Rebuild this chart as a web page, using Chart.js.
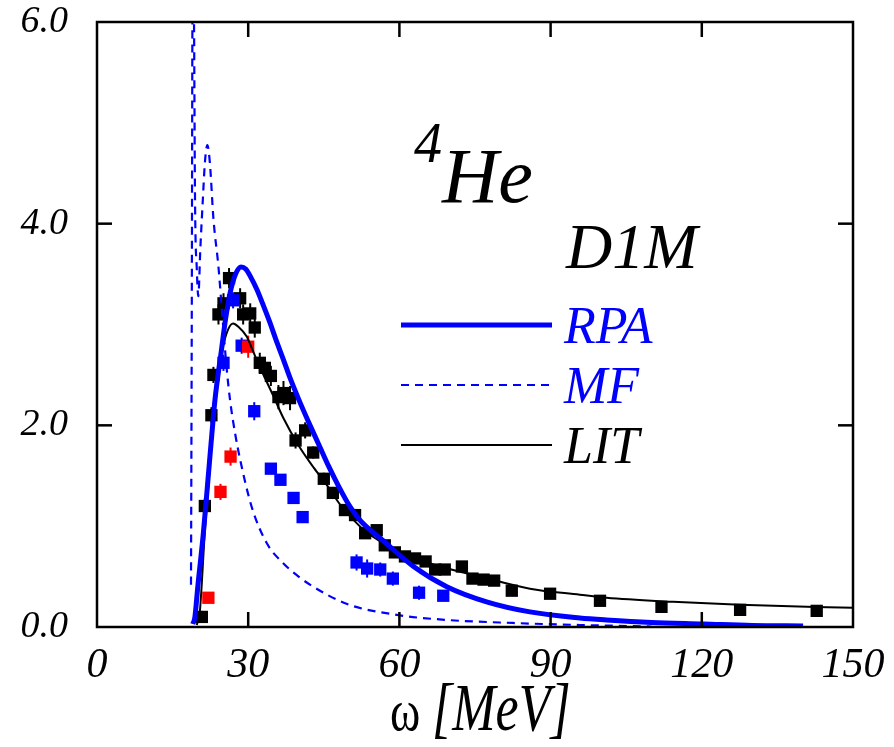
<!DOCTYPE html>
<html><head><meta charset="utf-8">
<script src="https://cdn.jsdelivr.net/npm/chart.js@4.4.1/dist/chart.umd.min.js"></script>
<style>html,body{margin:0;padding:0;background:#fff;}canvas{display:block;}</style>
</head><body>
<canvas id="c" width="894" height="747"></canvas>
<script>
// ---- tick labels ----
const xTicks = [0, 30, 60, 90, 120, 150];
const yTicks = [0, 2, 4, 6];

// ---- theory curves ----
const rpaX = [19.0,19.4,20.0,21.1,22.0,22.8,23.4,24.7,25.5,26.4,27.5,28.6,29.5,30.5,31.7,33.0,34.3,35.5,37.0,38.3,40.0,42.0,44.0,46.0,48.0,50.0,52.0,54.0,56.2,62.8,69.4,77.3,85.9,95.8,101.1,110.0,120.3,130.0,140.1];
const rpaY = [0.03,0.09,0.40,0.93,1.45,1.92,2.25,2.75,3.05,3.31,3.50,3.57,3.55,3.47,3.35,3.19,3.02,2.85,2.65,2.47,2.26,2.03,1.81,1.59,1.39,1.21,1.07,0.97,0.88,0.60,0.40,0.25,0.15,0.09,0.07,0.045,0.03,0.015,0.01];

const mfX = [18.65,18.8,18.95,19.1,19.25,19.45,19.8,20.1,20.5,21.0,21.4,21.9,22.4,23.1,24.1,25.0,25.7,26.4,27.4,28.4,30.7,33.7,37.0,40.0,42.9,49.5,59.5,69.4,82.5,95.8,110.0];
const mfY = [0.42,3.0,6.2,6.6,6.0,4.24,3.55,3.28,3.75,4.24,4.6,4.78,4.6,4.05,3.57,3.0,2.58,2.25,1.92,1.66,1.19,0.83,0.63,0.50,0.40,0.23,0.12,0.07,0.04,0.02,0.005];

const litX = [19.8,20.4,21.4,22.1,23.1,24.0,25.0,26.0,27.0,28.0,29.7,31.0,32.3,35.0,37.0,40.0,43.0,46.0,48.0,50.0,53.5,59.5,66.1,76.0,85.9,95.8,101.1,114.3,127.6,150.0];
const litY = [0.02,0.15,0.95,1.40,2.05,2.48,2.78,2.95,3.01,2.98,2.88,2.73,2.58,2.29,2.07,1.80,1.58,1.38,1.23,1.11,0.94,0.76,0.63,0.50,0.38,0.32,0.29,0.25,0.22,0.19];

// ---- experimental points ----
const blackX = [20.8,21.4,22.7,23.1,24.1,25.1,26.2,28.4,29.0,30.4,31.3,32.3,33.3,34.5,36.0,37.0,38.3,39.4,41.3,42.9,45.0,46.8,49.2,51.2,53.2,55.5,57.1,59.1,61.1,63.1,65.2,67.1,69.0,72.4,74.5,76.7,78.8,82.3,89.9,99.8,112.0,127.6,142.8];
const blackY = [0.10,1.20,2.10,2.50,3.10,3.21,3.46,3.26,3.10,3.11,2.97,2.62,2.57,2.49,2.28,2.32,2.27,1.85,1.95,1.73,1.47,1.33,1.16,1.11,0.93,0.96,0.81,0.74,0.70,0.68,0.65,0.57,0.57,0.60,0.48,0.47,0.46,0.36,0.33,0.26,0.20,0.17,0.16];
const blackErr = [0.06,0.08,0.08,0.08,0.10,0.10,0.10,0.10,0.10,0.10,0.10,0.10,0.10,0.10,0.12,0.12,0.12,0.08,0.08,0.06,0.06,0.05,0.04,0.04,0.04,0.04,0.04,0.04,0.04,0.04,0.04,0.04,0.04,0.04,0.04,0.04,0.04,0.04,0.04,0.04,0.04,0.04,0.04];

const blueX = [25.1,27.0,28.7,31.2,34.5,36.4,39.0,40.8,51.5,53.6,56.2,58.7,63.9,68.7];
const blueY = [2.62,3.24,2.79,2.14,1.57,1.46,1.28,1.09,0.64,0.58,0.57,0.48,0.34,0.31];
const blueErr = [0.08,0.08,0.08,0.09,0.05,0.05,0.05,0.05,0.08,0.09,0.07,0.07,0.07,0.05];

const redX = [22.1,24.5,26.5,30.0];
const redY = [0.29,1.34,1.69,2.78];
const redErr = [0.05,0.08,0.09,0.11];

const pts = (xs, ys) => xs.map((x, i) => ({x: x, y: ys[i]}));
const SERIF = '"Liberation Serif", "DejaVu Serif", serif';
const BLUE = '#0000ff', RED = '#ff0000', BLACK = '#000000';

const errorBars = {
  id: 'errorBars',
  beforeDatasetsDraw(chart) {
    const {ctx, chartArea, scales: {x, y}} = chart;
    ctx.save();
    ctx.beginPath(); ctx.rect(chartArea.left, chartArea.top, chartArea.right - chartArea.left, chartArea.bottom - chartArea.top); ctx.clip();
    chart.data.datasets.forEach(ds => {
      if (!ds.errY) return;
      ctx.strokeStyle = ds.backgroundColor; ctx.lineWidth = 2;
      ds.data.forEach((p, i) => {
        const px = x.getPixelForValue(p.x);
        ctx.beginPath();
        ctx.moveTo(px, y.getPixelForValue(p.y - ds.errY[i]));
        ctx.lineTo(px, y.getPixelForValue(p.y + ds.errY[i]));
        ctx.stroke();
      });
    });
    ctx.restore();
  }
};

const frame = {
  id: 'frame',
  afterDraw(chart) {
    const {ctx, chartArea: {left, right, top, bottom}, scales: {x, y}} = chart;
    ctx.save();
    ctx.strokeStyle = BLACK; ctx.lineWidth = 2.5;
    ctx.strokeRect(left, top, right - left, bottom - top);
    const L = 15;
    xTicks.forEach(v => {
      const px = x.getPixelForValue(v);
      if (px <= left + 1 || px >= right - 1) return;
      ctx.beginPath(); ctx.moveTo(px, bottom); ctx.lineTo(px, bottom - L); ctx.stroke();
      ctx.beginPath(); ctx.moveTo(px, top); ctx.lineTo(px, top + L); ctx.stroke();
    });
    yTicks.forEach(v => {
      const py = y.getPixelForValue(v);
      if (py <= top + 1 || py >= bottom - 1) return;
      ctx.beginPath(); ctx.moveTo(left, py); ctx.lineTo(left + L, py); ctx.stroke();
      ctx.beginPath(); ctx.moveTo(right, py); ctx.lineTo(right - L, py); ctx.stroke();
    });
    ctx.restore();
  }
};

const texts = {
  id: 'texts',
  afterDraw(chart) {
    const ctx = chart.ctx;
    ctx.save();
    ctx.textAlign = 'left'; ctx.textBaseline = 'alphabetic';
    ctx.fillStyle = BLACK;
    ctx.font = 'italic 56px ' + SERIF; ctx.fillText('4', 414, 162);
    ctx.font = 'italic 78px ' + SERIF; ctx.fillText('He', 442, 202);
    ctx.font = 'italic 64px ' + SERIF; ctx.fillText('D1M', 566, 268);
    ctx.lineCap = 'butt';
    ctx.strokeStyle = BLUE; ctx.lineWidth = 5;
    ctx.beginPath(); ctx.moveTo(401, 325); ctx.lineTo(552, 325); ctx.stroke();
    ctx.lineWidth = 2.2; ctx.setLineDash([8, 6]);
    ctx.beginPath(); ctx.moveTo(401, 385); ctx.lineTo(552, 385); ctx.stroke();
    ctx.setLineDash([]);
    ctx.strokeStyle = BLACK; ctx.lineWidth = 2;
    ctx.beginPath(); ctx.moveTo(401, 445); ctx.lineTo(552, 445); ctx.stroke();
    ctx.font = 'italic 52px ' + SERIF;
    ctx.fillStyle = BLUE; ctx.fillText('RPA', 564, 343); ctx.fillText('MF', 564, 403);
    ctx.fillStyle = BLACK; ctx.fillText('LIT', 564, 463);
    const s = 1.3;
    ctx.scale(1, s);
    ctx.font = '46px ' + SERIF; ctx.fillText('\u03c9', 390, 730 / s);
    ctx.font = 'italic 52px ' + SERIF; ctx.fillText('[MeV]', 432, 730 / s);
    ctx.restore();
  }
};

const lineDs = (label, xs, ys, color, width, dash, order) => ({
  label, data: pts(xs, ys), showLine: true, borderColor: color, backgroundColor: color,
  borderWidth: width, borderDash: dash, pointRadius: 0, pointHoverRadius: 0,
  cubicInterpolationMode: 'monotone', order, clip: 0
});
const ptDs = (label, xs, ys, errs, color, order) => ({
  label, data: pts(xs, ys), showLine: false, pointStyle: 'rect', pointRadius: 8.7,
  pointHoverRadius: 8.7, backgroundColor: color, borderColor: color, borderWidth: 0,
  errY: errs, order, clip: 0
});

new Chart(document.getElementById('c'), {
  type: 'scatter',
  data: {
    datasets: [
      lineDs('RPA', rpaX, rpaY, BLUE, 5, [], 1),
      lineDs('MF', mfX, mfY, BLUE, 2.2, [8, 6], 2),
      lineDs('LIT', litX, litY, BLACK, 2, [], 3),
      ptDs('red data', redX, redY, redErr, RED, 4),
      ptDs('blue data', blueX, blueY, blueErr, BLUE, 5),
      ptDs('black data', blackX, blackY, blackErr, BLACK, 6)
    ]
  },
  options: {
    responsive: false, devicePixelRatio: 1, animation: false,
    layout: {padding: {top: 22, right: 41, left: 0, bottom: 0}},
    plugins: {legend: {display: false}, tooltip: {enabled: false}, title: {display: false}},
    scales: {
      x: {
        type: 'linear', min: 0, max: 150,
        afterBuildTicks: s => { s.ticks = xTicks.map(v => ({value: v})); },
        ticks: {color: BLACK, font: {family: SERIF, style: 'italic', size: 42}, padding: 14, maxRotation: 0, autoSkip: false},
        grid: {display: false, drawTicks: false},
        border: {display: false},
        afterFit: s => { s.height = 120; s.paddingLeft = 0; s.paddingRight = 0; }
      },
      y: {
        type: 'linear', min: 0, max: 6,
        afterBuildTicks: s => { s.ticks = yTicks.map(v => ({value: v})); },
        ticks: {color: BLACK, font: {family: SERIF, style: 'italic', size: 38}, padding: 29,
                callback: v => v.toFixed(1)},
        grid: {display: false, drawTicks: false},
        border: {display: false},
        afterFit: s => { s.width = 97; s.paddingTop = 0; s.paddingBottom = 0; }
      }
    }
  },
  plugins: [errorBars, frame, texts]
});
</script>
</body></html>
